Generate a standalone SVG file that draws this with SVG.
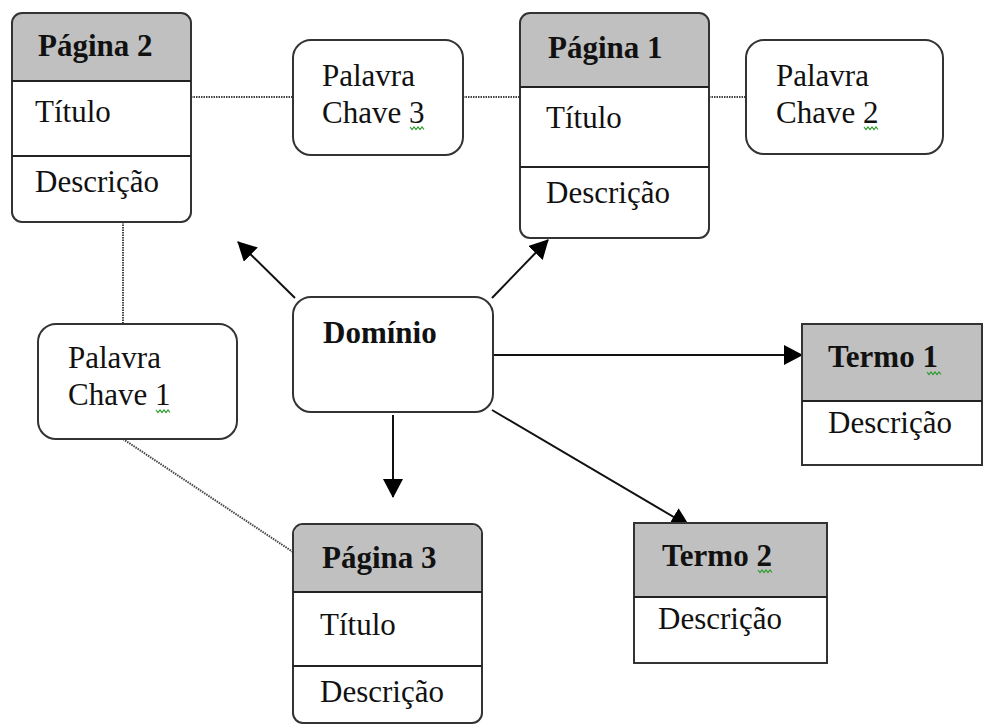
<svg xmlns="http://www.w3.org/2000/svg" width="984" height="726" viewBox="0 0 984 726">
<style>
.box{fill:#fff;stroke:#333;stroke-width:2}
.hdr{fill:#c0c0c0;stroke:none}
.div{stroke:#222;stroke-width:2}
.t{font-family:"Liberation Serif","Times New Roman",serif;font-size:31px;fill:#111}
.b{font-weight:bold}
.dot{stroke:#444;stroke-width:2;stroke-dasharray:1.5 1;fill:none}
.arr{stroke:#111;stroke-width:2;fill:none;marker-end:url(#ah)}
.sq{stroke:#2a9a2a;stroke-width:1.2;fill:none}
</style>
<defs>
<marker id="ah" markerUnits="userSpaceOnUse" markerWidth="19" markerHeight="20" refX="18" refY="10" orient="auto">
<path d="M0,0 L19,10 L0,20 Z" fill="#000"/>
</marker>
</defs>
<rect width="984" height="726" fill="#fff"/>
<g id="connectors">
<line class="dot" x1="191" y1="97" x2="293" y2="97"/>
<line class="dot" x1="463" y1="97" x2="520" y2="97"/>
<line class="dot" x1="709" y1="97" x2="746" y2="97"/>
<line class="dot" x1="123" y1="222" x2="123" y2="324"/>
<line class="dot" x1="123" y1="439" x2="293" y2="552"/>
<line class="arr" x1="295" y1="298" x2="238" y2="242"/>
<line class="arr" x1="492" y1="298" x2="548" y2="240"/>
<line class="arr" x1="393" y1="415" x2="393" y2="497"/>
<line class="arr" x1="493" y1="355" x2="802" y2="355"/>
<line class="arr" x1="492" y1="410" x2="689" y2="526"/>
</g>
<g id="pagina2">
<path class="hdr" d="M12,81 V23 A10,10 0 0 1 22,13 H181 A10,10 0 0 1 191,23 V81 Z"/>
<rect class="box" x="12" y="13" width="179" height="209" rx="10" style="fill:none"/>
<line class="div" x1="12" y1="81" x2="191" y2="81"/>
<line class="div" x1="12" y1="156" x2="191" y2="156"/>
<text class="t b" x="38" y="56">Página 2</text>
<text class="t" x="35" y="122">Título</text>
<text class="t" x="35" y="192">Descrição</text>
</g>
<g id="palavra3">
<rect class="box" x="293" y="40" width="170" height="115" rx="18"/>
<text class="t" x="322" y="86">Palavra</text>
<text class="t" x="322" y="123">Chave 3</text>
<path class="sq" d="M410,127 l2,2.5 l2,-2.5 l2,2.5 l2,-2.5 l2,2.5 l2,-2.5 l2,2.5"/>
</g>
<g id="pagina1">
<path class="hdr" d="M520,87 V23 A10,10 0 0 1 530,13 H699 A10,10 0 0 1 709,23 V87 Z"/>
<rect class="box" x="520" y="13" width="189" height="225" rx="10" style="fill:none"/>
<line class="div" x1="520" y1="87" x2="709" y2="87"/>
<line class="div" x1="520" y1="167" x2="709" y2="167"/>
<text class="t b" x="548" y="58">Página 1</text>
<text class="t" x="546" y="128">Título</text>
<text class="t" x="546" y="203">Descrição</text>
</g>
<g id="palavra2">
<rect class="box" x="746" y="40" width="197" height="114" rx="18"/>
<text class="t" x="776" y="86">Palavra</text>
<text class="t" x="776" y="123">Chave 2</text>
<path class="sq" d="M864,127 l2,2.5 l2,-2.5 l2,2.5 l2,-2.5 l2,2.5 l2,-2.5 l2,2.5"/>
</g>
<g id="dominio">
<rect class="box" x="293" y="297" width="200" height="115" rx="18"/>
<text class="t b" x="323" y="343">Domínio</text>
</g>
<g id="palavra1">
<rect class="box" x="38" y="324" width="199" height="115" rx="18"/>
<text class="t" x="68" y="368">Palavra</text>
<text class="t" x="68" y="405">Chave 1</text>
<path class="sq" d="M156,410 l2,2.5 l2,-2.5 l2,2.5 l2,-2.5 l2,2.5 l2,-2.5 l2,2.5"/>
</g>
<g id="termo1">
<rect class="hdr" x="802" y="324" width="180" height="77"/>
<rect class="box" x="802" y="324" width="180" height="141" style="fill:none"/>
<line class="div" x1="802" y1="401" x2="982" y2="401"/>
<text class="t b" x="828" y="367">Termo 1</text>
<path class="sq" d="M927,372 l2,2.5 l2,-2.5 l2,2.5 l2,-2.5 l2,2.5 l2,-2.5 l2,2.5"/>
<text class="t" x="828" y="433">Descrição</text>
</g>
<g id="termo2">
<rect class="box" x="634" y="523" width="193" height="140" style="fill:#fff"/>
<rect class="hdr" x="635" y="524" width="191" height="73"/>
<line class="div" x1="634" y1="597" x2="827" y2="597"/>
<text class="t b" x="662" y="566">Termo 2</text>
<path class="sq" d="M758,570 l2,2.5 l2,-2.5 l2,2.5 l2,-2.5 l2,2.5 l2,-2.5 l2,2.5"/>
<text class="t" x="658" y="629">Descrição</text>
</g>
<g id="pagina3">
<rect class="box" x="293" y="524" width="189" height="199" rx="10"/>
<path class="hdr" d="M294,592 V534 A9,9 0 0 1 303,525 H472 A9,9 0 0 1 481,534 V592 Z"/>
<line class="div" x1="293" y1="592" x2="482" y2="592"/>
<line class="div" x1="293" y1="666" x2="482" y2="666"/>
<text class="t b" x="322" y="568">Página 3</text>
<text class="t" x="320" y="635">Título</text>
<text class="t" x="320" y="702">Descrição</text>
</g>
</svg>
